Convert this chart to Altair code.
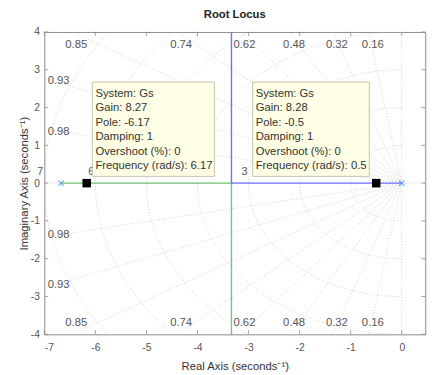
import altair as alt
import pandas as pd
import numpy as np

# ---------------- data ----------------
pole_re = [-6.67, 0.0]
pole_im = [0.0, 0.0]

locus_green_re = [-6.67, -3.335, -3.335]
locus_green_im = [0.0, 0.0, -4.6]
locus_blue_re = [0.0, -3.335, -3.335]
locus_blue_im = [0.0, 0.0, 4.6]

tip_system = ["Gs", "Gs"]
tip_gain = [8.27, 8.28]
tip_pole = [-6.17, -0.5]
tip_damping = [1, 1]
tip_overshoot = [0, 0]
tip_freq = [6.17, 0.5]
tip_side = ["right", "left"]

zeta_values = [0.16, 0.32, 0.48, 0.62, 0.74, 0.85, 0.93, 0.98]
zeta_labels = ["0.16", "0.32", "0.48", "0.62", "0.74", "0.85", "0.93", "0.98"]
wn_values = [1, 2, 3, 4, 5, 6, 7]
x_ticks = [-7, -6, -5, -4, -3, -2, -1, 0]
y_ticks = [-4, -3, -2, -1, 0, 1, 2, 3, 4]

X_DOM = [-7, 0.46]
Y_DOM = [-4, 4]
W, H = 388, 308
FONT = "Liberation Sans"

LBL = "datum.value < 0 ? '-' + abs(datum.value) : '' + datum.value"
xs = alt.Scale(domain=X_DOM, nice=False, zero=False)
ys = alt.Scale(domain=Y_DOM, nice=False, zero=False)
x_axis = alt.Axis(values=x_ticks, title="Real Axis (seconds⁻¹)", grid=False, labelExpr=LBL,
                  ticks=False, domain=False, labelPadding=8, titlePadding=8)
y_axis = alt.Axis(values=y_ticks, title="Imaginary Axis (seconds⁻¹)", grid=False, labelExpr=LBL,
                  ticks=False, domain=False, labelPadding=5, titlePadding=1)

def X(field="x"):
    return alt.X(f"{field}:Q", scale=xs, axis=x_axis)

def Y(field="y"):
    return alt.Y(f"{field}:Q", scale=ys, axis=y_axis)

# ---------------- grid geometry (sgrid) ----------------
rows = []
gid = 0
theta = np.linspace(np.pi / 2, 3 * np.pi / 2, 121)
for wn in wn_values:
    for i, t in enumerate(theta):
        rows.append({"id": gid, "o": i, "x": wn * np.cos(t), "y": wn * np.sin(t)})
    gid += 1
R = 12
for z in zeta_values:
    s = np.sqrt(1 - z * z)
    for sign in (1, -1):
        rows.append({"id": gid, "o": 0, "x": 0.0, "y": 0.0})
        rows.append({"id": gid, "o": 1, "x": -R * z, "y": sign * R * s})
        gid += 1
rows += [{"id": gid, "o": 0, "x": -10, "y": 0}, {"id": gid, "o": 1, "x": 2, "y": 0}]
gid += 1
rows += [{"id": gid, "o": 0, "x": 0, "y": -6}, {"id": gid, "o": 1, "x": 0, "y": 6}]
grid_df = pd.DataFrame(rows)

grid = alt.Chart(grid_df).mark_line(
    clip=True, color="#c4c4c4", strokeWidth=0.8, strokeDash=[1, 2]
).encode(x=X(), y=Y(), detail="id:N", order="o:Q")

# damping labels
zl = []
for z, lab in zip(zeta_values, zeta_labels):
    tn = np.sqrt(1 - z * z) / z
    if 7 * tn < 4:
        zl.append({"x": -6.72, "y": 7 * tn - 0.06, "t": lab})
        zl.append({"x": -6.72, "y": -(7 * tn - 0.06), "t": lab})
    else:
        zl.append({"x": -4 / tn + 0.08, "y": 3.66, "t": lab})
        zl.append({"x": -4 / tn + 0.08, "y": -3.69, "t": lab})
zeta_text = alt.Chart(pd.DataFrame(zl)).mark_text(
    font=FONT, fontSize=11.5, color="#555555", align="center", baseline="middle"
).encode(x=X(), y=Y(), text="t:N")

# natural frequency labels
wl = pd.DataFrame({"x": [-w - 0.08 for w in wn_values], "y": [0.3] * len(wn_values),
                   "t": [str(w) for w in wn_values]})
wn_text = alt.Chart(wl).mark_text(
    font=FONT, fontSize=11, color="#555555", align="center", baseline="middle"
).encode(x=X(), y=Y(), text="t:N")

# root locus branches
loc_rows = []
for name, re_, im_ in (("g", locus_green_re, locus_green_im), ("b", locus_blue_re, locus_blue_im)):
    for i, (a, b) in enumerate(zip(re_, im_)):
        loc_rows.append({"br": name, "o": i, "x": a, "y": b})
locus = alt.Chart(pd.DataFrame(loc_rows)).mark_line(clip=True, strokeWidth=1.4).encode(
    x=X(), y=Y(), detail="br:N", order="o:Q",
    color=alt.Color("br:N", scale=alt.Scale(domain=["g", "b"], range=["#74c474", "#6f6fff"]),
                    legend=None),
)

# poles
poles = alt.Chart(pd.DataFrame({"x": pole_re, "y": pole_im})).mark_point(
    shape="M-1,-1L1,1M-1,1L1,-1", size=30, filled=False, color="#3d8fe0", strokeWidth=1.2
).encode(x=X(), y=Y())

# datatips
box_rows, txt_rows = [], []
px_per_y = H / (Y_DOM[1] - Y_DOM[0])
for k in range(len(tip_pole)):
    p = tip_pole[k]
    if tip_side[k] == "right":
        x1, x2 = p + 0.11, p + 2.50
    else:
        x1, x2 = p - 2.42, p - 0.135
    y1, y2 = 0.18, 2.675
    box_rows.append({"x": x1, "x2": x2, "y": y1, "y2": y2})
    lines = [f"System: {tip_system[k]}", f"Gain: {tip_gain[k]}", f"Pole: {tip_pole[k]}",
             f"Damping: {tip_damping[k]}", f"Overshoot (%): {tip_overshoot[k]}",
             f"Frequency (rad/s): {tip_freq[k]}"]
    for i, t in enumerate(lines):
        txt_rows.append({"x": x1 + 0.06, "y": y2 - (12 + 14.8 * i) / px_per_y, "t": t})

boxes = alt.Chart(pd.DataFrame(box_rows)).mark_rect(
    fill="#ffffe6", stroke="#b4b4a0", strokeWidth=0.8
).encode(x=X(), x2="x2:Q", y=Y(), y2="y2:Q")
box_text = alt.Chart(pd.DataFrame(txt_rows)).mark_text(
    font=FONT, fontSize=11.5, color="#333333", align="left", baseline="middle"
).encode(x=X(), y=Y(), text="t:N")

squares = alt.Chart(pd.DataFrame({"x": tip_pole, "y": [0.0, 0.0]})).mark_square(
    size=75, color="black", opacity=1
).encode(x=X(), y=Y())

# inward ticks on all four sides
TK = "#8a8a8a"
tx = pd.DataFrame({"x": x_ticks})
ty = pd.DataFrame({"y": y_ticks})
tick_b = alt.Chart(tx).mark_rule(color=TK, strokeWidth=0.8).encode(
    x=X(), y=alt.value(H), y2=alt.value(H - 4))
tick_t = alt.Chart(tx).mark_rule(color=TK, strokeWidth=0.8).encode(
    x=X(), y=alt.value(0), y2=alt.value(4))
tick_l = alt.Chart(ty).mark_rule(color=TK, strokeWidth=0.8).encode(
    y=Y(), x=alt.value(0), x2=alt.value(4))
tick_r = alt.Chart(ty).mark_rule(color=TK, strokeWidth=0.8).encode(
    y=Y(), x=alt.value(W), x2=alt.value(W - 4))

chart = alt.layer(
    grid, zeta_text, wn_text, locus, poles, boxes, box_text, squares,
    tick_b, tick_t, tick_l, tick_r,
).properties(
    width=W, height=H,
    title=alt.TitleParams("Root Locus", font=FONT, fontSize=11.5, fontWeight="bold",
                          color="#222222", offset=7, anchor="middle"),
    autosize=alt.AutoSizeParams(type="none"),
    padding={"left": 37, "top": 21, "right": 13, "bottom": 38},
).configure_view(
    stroke="#8a8a8a", strokeWidth=1
).configure_axis(
    labelFont=FONT, labelFontSize=10.5, labelColor="#555555",
    titleFont=FONT, titleFontSize=11.5, titleColor="#333333", titleFontWeight="normal",
)

chart.save("out.html", embed_options={"renderer": "svg", "actions": False})
